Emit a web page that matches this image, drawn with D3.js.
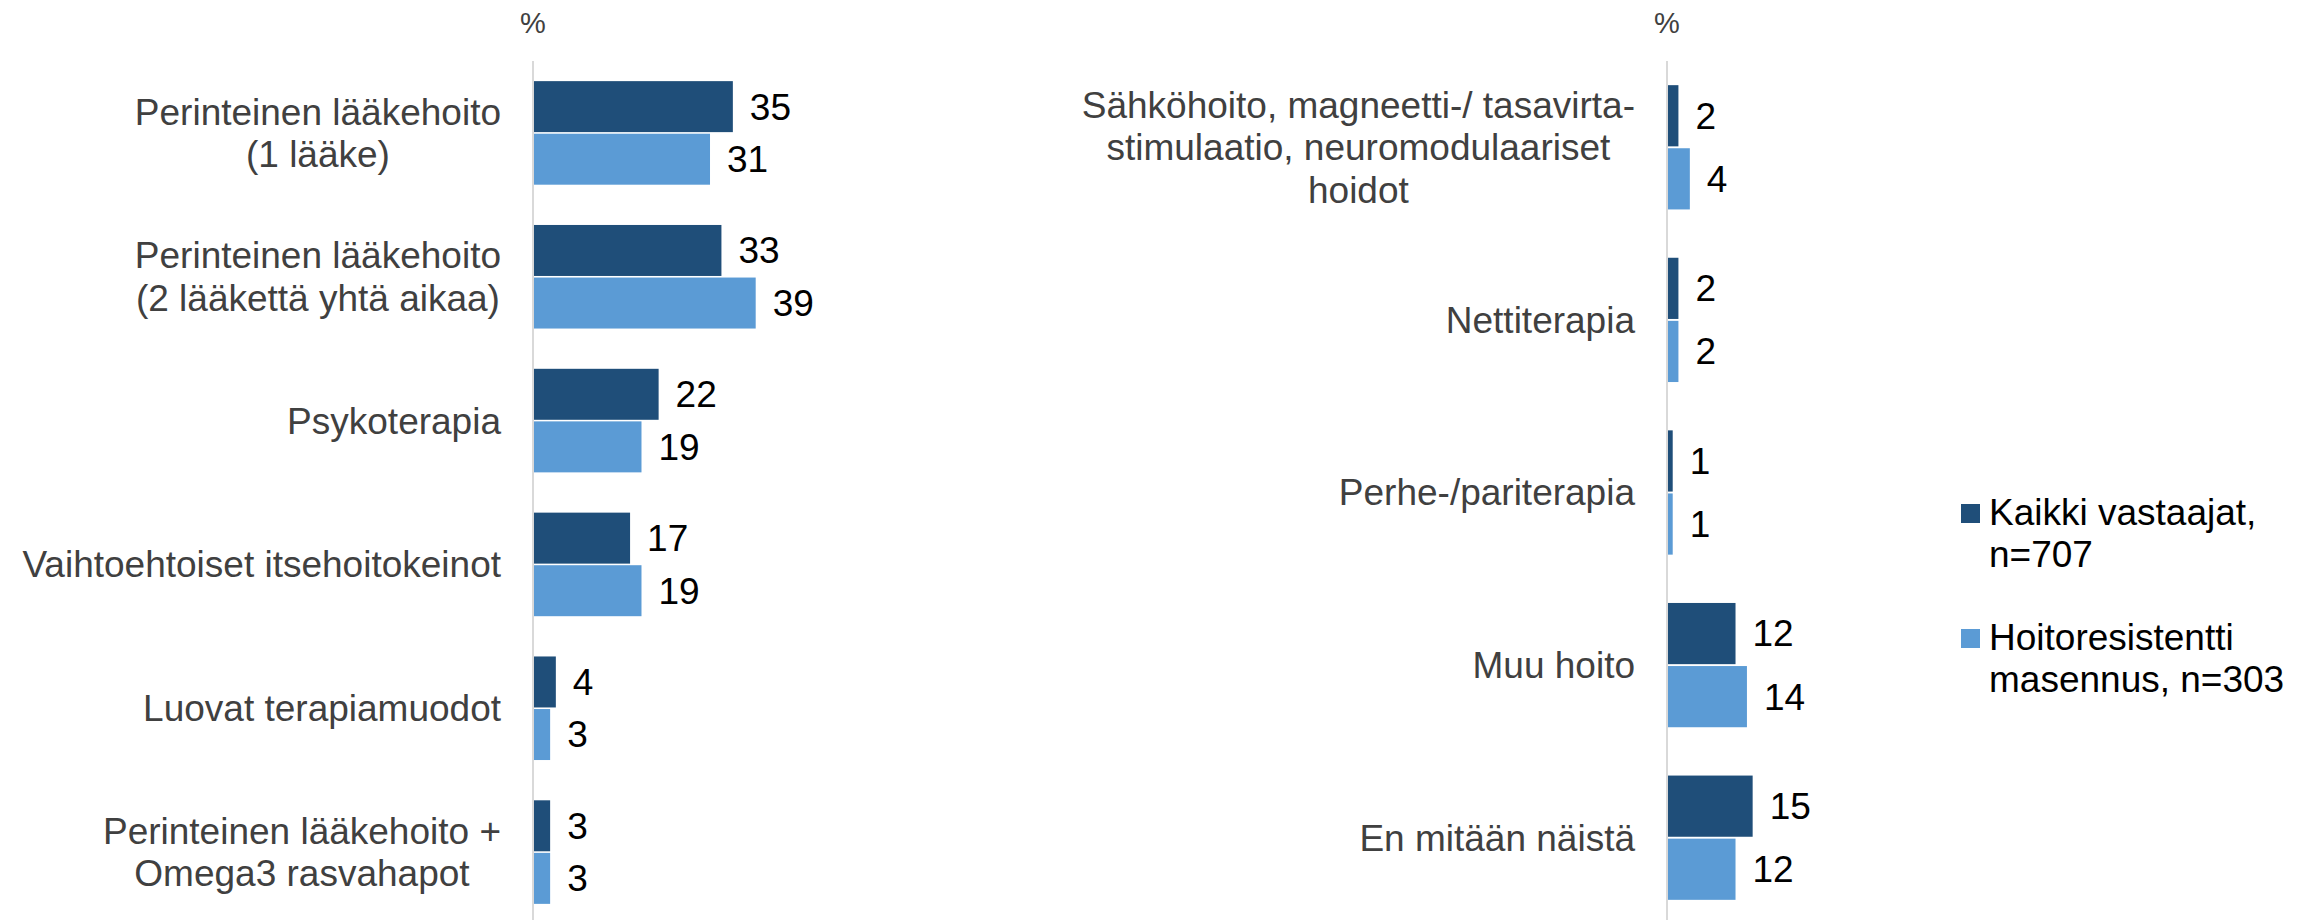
<!DOCTYPE html>
<html>
<head>
<meta charset="utf-8">
<script src="https://cdn.jsdelivr.net/npm/d3@7"></script>
<style>
  body { margin: 0; background: #fff; }
  svg { display: block; font-family: "Liberation Sans", Arial, sans-serif; }
</style>
</head>
<body>
<div id="chart"></div>
<script>
// Data
let seriesNames = ['Kaikki vastaajat, n=707', 'Hoitoresistentti masennus, n=303'];
let legendLines = [['Kaikki vastaajat,', 'n=707'], ['Hoitoresistentti', 'masennus, n=303']];
let colors = ['#1f4e79', '#5b9bd5'];

let leftCategories = [
  ['Perinteinen lääkehoito', '(1 lääke)'],
  ['Perinteinen lääkehoito', '(2 lääkettä yhtä aikaa)'],
  ['Psykoterapia'],
  ['Vaihtoehtoiset itsehoitokeinot'],
  ['Luovat terapiamuodot'],
  ['Perinteinen lääkehoito +', 'Omega3 rasvahapot']
];
let leftAll = [35, 33, 22, 17, 4, 3];
let leftTrd = [31, 39, 19, 19, 3, 3];

let rightCategories = [
  ['Sähköhoito, magneetti-/ tasavirta-', 'stimulaatio, neuromodulaariset', 'hoidot'],
  ['Nettiterapia'],
  ['Perhe-/pariterapia'],
  ['Muu hoito'],
  ['En mitään näistä']
];
let rightAll = [2, 2, 1, 12, 15];
let rightTrd = [4, 2, 1, 14, 12];

let width = 2313;
let height = 920;
let fontSize = 37;
let lineH = 42.5;

let svg = d3.select('#chart').append('svg')
  .attr('width', width)
  .attr('height', height);

// Same value scale on both panels
let x = d3.scaleLinear().domain([0, 40]).range([0, 228.4]);

function drawPanel(axisX, cats, all, trd) {
  let rows = cats.map((c, i) => ({ lines: c, vals: [all[i], trd[i]], key: i }));

  let y0 = d3.scaleBand()
    .domain(rows.map(d => d.key))
    .range([61, 924])
    .paddingInner(0.28)
    .paddingOuter(0.14);

  let y1 = d3.scaleBand()
    .domain([0, 1])
    .range([0, y0.bandwidth()])
    .paddingInner(0.03);

  let g = svg.append('g').attr('transform', `translate(${axisX},0)`);

  let groups = g.selectAll('g.cat')
    .data(rows)
    .enter()
    .append('g')
    .classed('cat', true)
    .attr('transform', d => `translate(0,${y0(d.key)})`);

  groups.selectAll('rect')
    .data(d => d.vals.map((v, s) => ({ v: v, s: s })))
    .enter()
    .append('rect')
    .attr('x', 0)
    .attr('y', d => y1(d.s))
    .attr('width', d => x(d.v))
    .attr('height', y1.bandwidth())
    .attr('fill', d => colors[d.s]);

  groups.selectAll('text.val')
    .data(d => d.vals.map((v, s) => ({ v: v, s: s })))
    .enter()
    .append('text')
    .classed('val', true)
    .attr('x', d => x(d.v) + 17)
    .attr('y', d => y1(d.s) + y1.bandwidth() / 2)
    .attr('dy', '0.35em')
    .attr('font-size', fontSize)
    .attr('fill', '#000')
    .text(d => d.v);

  // Category labels: block right-aligned, lines centered
  groups.each(function(d) {
    let grp = d3.select(this);
    let cy = y0.bandwidth() / 2;
    let n = d.lines.length;
    let texts = d.lines.map((line, i) => grp.append('text')
      .attr('y', cy + (i - (n - 1) / 2) * lineH)
      .attr('dy', '0.35em')
      .attr('font-size', fontSize)
      .attr('fill', '#404040')
      .attr('text-anchor', 'middle')
      .text(line));
    let maxW = d3.max(texts, t => t.node().getComputedTextLength());
    texts.forEach(t => t.attr('x', -32 - maxW / 2));
  });

  // Axis line
  g.append('line')
    .attr('x1', 0).attr('x2', 0)
    .attr('y1', 61).attr('y2', height)
    .attr('stroke', '#d9d9d9')
    .attr('stroke-width', 2);

  g.append('text')
    .attr('x', 0)
    .attr('y', 33)
    .attr('text-anchor', 'middle')
    .attr('font-size', 29)
    .attr('fill', '#404040')
    .text('%');
}

drawPanel(533, leftCategories, leftAll, leftTrd);
drawPanel(1667, rightCategories, rightAll, rightTrd);

// Legend
let legend = svg.append('g').attr('transform', 'translate(1961,0)');
let legendTop = [504, 629];
seriesNames.forEach((name, i) => {
  legend.append('rect')
    .attr('x', 0)
    .attr('y', legendTop[i])
    .attr('width', 19)
    .attr('height', 19)
    .attr('fill', colors[i]);
  legendLines[i].forEach((line, j) => {
    legend.append('text')
      .attr('x', 28)
      .attr('y', legendTop[i] + 21 + j * 42)
      .attr('font-size', fontSize)
      .attr('fill', '#000')
      .text(line);
  });
});
</script>
</body>
</html>
